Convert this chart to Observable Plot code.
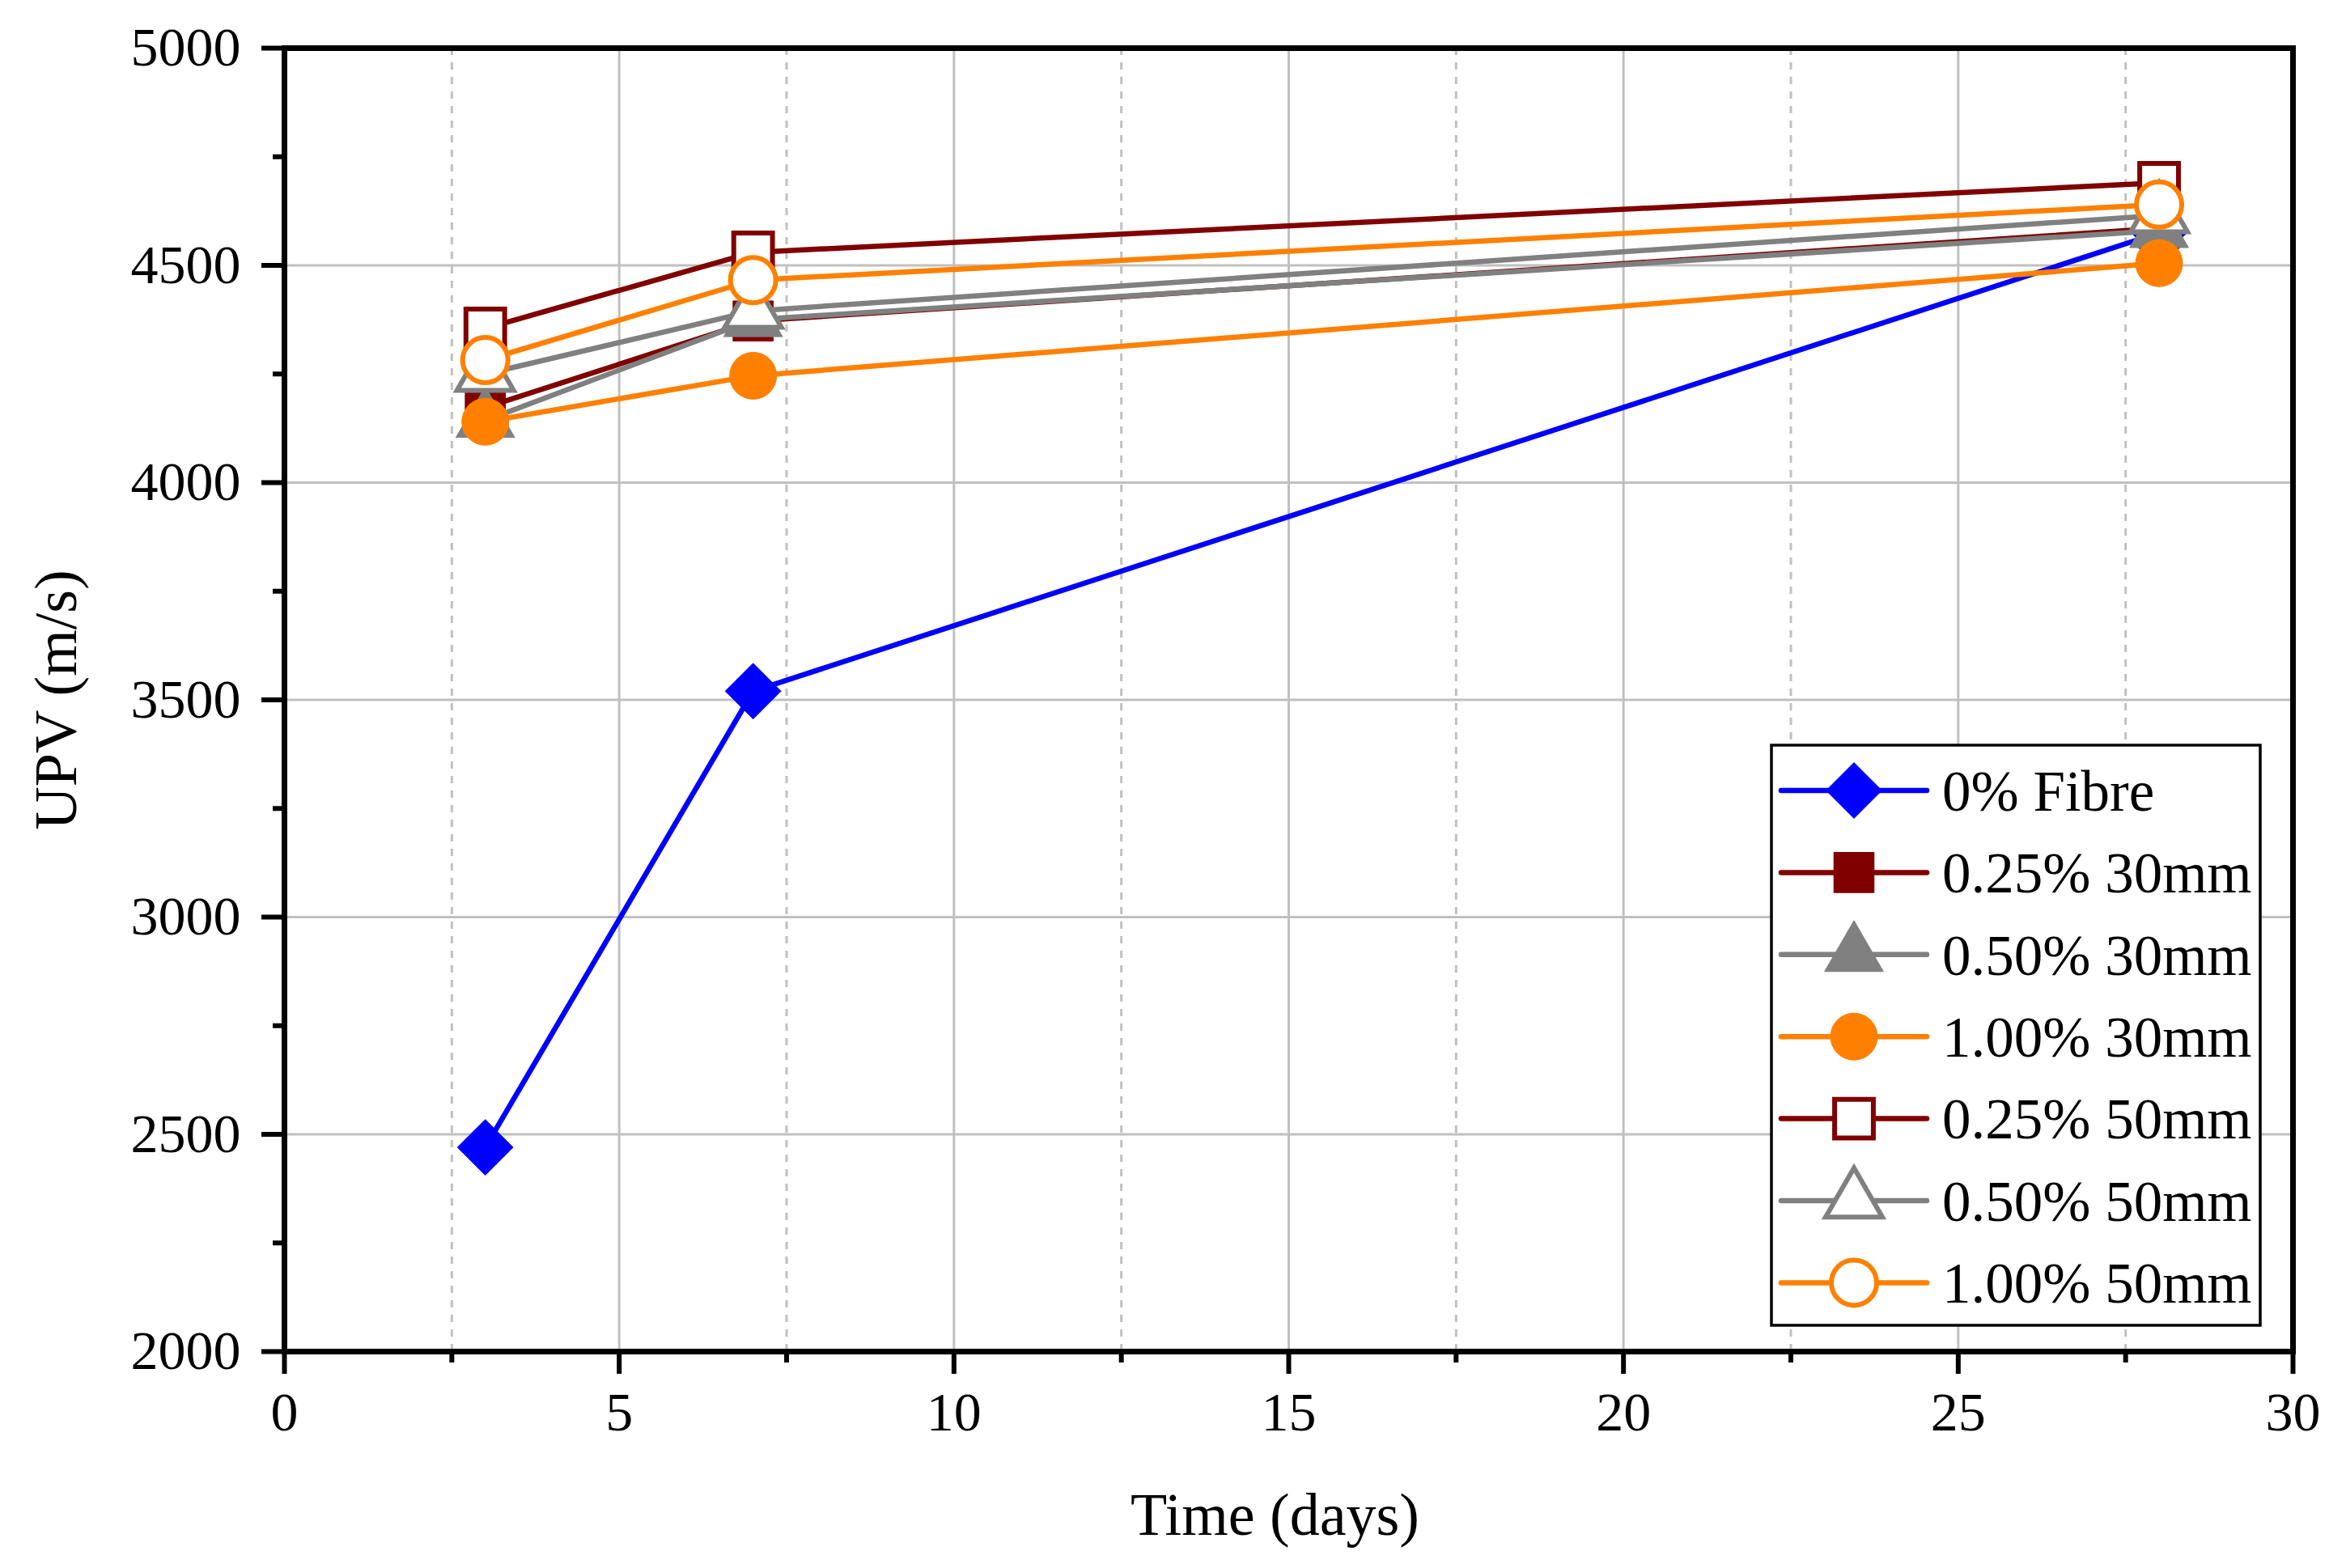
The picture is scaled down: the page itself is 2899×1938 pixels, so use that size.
<!DOCTYPE html>
<html>
<head>
<meta charset="utf-8">
<script src="https://cdn.jsdelivr.net/npm/d3@7"></script>
<script src="https://cdn.jsdelivr.net/npm/@observablehq/plot@0.6"></script>
<style>
  html, body { margin: 0; padding: 0; background: white; }
</style>
</head>
<body>
<div id="chart"></div>
<script>
// ---- data ----
const days = [3, 7, 28];
const seriesNames = ["0% Fibre", "0.25% 30mm", "0.50% 30mm", "1.00% 30mm", "0.25% 50mm", "0.50% 50mm", "1.00% 50mm"];
const fibre0   = [2470, 3520, 4575];
const p025_30  = [4173, 4372, 4585];
const p050_30  = [4143, 4375, 4580];
const p100_30  = [4140, 4246, 4505];
const p025_50  = [4355, 4530, 4690];
const p050_50  = [4250, 4395, 4615];
const p100_50  = [4282, 4466, 4640];
const seriesValues = [fibre0, p025_30, p050_30, p100_30, p025_50, p050_50, p100_50];

const xMajor = [0, 5, 10, 15, 20, 25, 30];
const xMinor = [2.5, 7.5, 12.5, 17.5, 22.5, 27.5];
const yMajor = [2000, 2500, 3000, 3500, 4000, 4500, 5000];
const yMinor = [2250, 2750, 3250, 3750, 4250, 4750];

// ---- styles ----
const colors  = ["#0000ff", "#800000", "#808080", "#ff8000", "#800000", "#808080", "#ff8000"];
const symbols = ["diamond2", "square", "triangle", "circle", "square", "triangle", "circle"];
const d3symbols = [d3.symbolDiamond2, d3.symbolSquare, d3.symbolTriangle, d3.symbolCircle, d3.symbolSquare, d3.symbolTriangle, d3.symbolCircle];
const radii   = [31, 28, 27, 29, 27, 26, 28];
const filled  = [true, true, true, true, false, false, false];

const W = 2899, H = 1938;
const mL = 351, mR = 66, mT = 59, mB = 268;
const FONT = "Liberation Serif";

const rows = [];
seriesNames.forEach((name, i) => {
  days.forEach((d, j) => rows.push({series: name, idx: i, day: d, value: seriesValues[i][j]}));
});

const dataMarks = [];
seriesNames.forEach((name, i) => {
  const data = rows.filter(r => r.idx === i);
  dataMarks.push(Plot.line(data, {x: "day", y: "value", stroke: colors[i], strokeWidth: 6.5}));
  dataMarks.push(Plot.dot(data, {
    x: "day", y: "value", symbol: () => symbols[i], r: radii[i],
    fill: filled[i] ? colors[i] : "white",
    stroke: colors[i], strokeWidth: filled[i] ? 1 : 6
  }));
});

const chart = Plot.plot({
  width: W, height: H,
  marginLeft: mL, marginRight: mR, marginTop: mT, marginBottom: mB,
  style: {fontFamily: FONT, fontSize: "68px", background: "white", color: "black", overflow: "visible"},
  x: {domain: [0, 30], label: null},
  y: {domain: [2000, 5000], label: null},
  symbol: {type: "identity"},
  marks: [
    Plot.gridX(xMinor, {stroke: "#c0c0c0", strokeOpacity: 1, strokeWidth: 3, strokeDasharray: "9,9"}),
    Plot.gridX(xMajor.slice(1, -1), {stroke: "#c0c0c0", strokeOpacity: 1, strokeWidth: 3}),
    Plot.gridY(yMajor.slice(1, -1), {stroke: "#c0c0c0", strokeOpacity: 1, strokeWidth: 3}),
    Plot.axisX(xMajor, {tickSize: 28, tickPadding: 21, strokeWidth: 6, fontSize: 68, tickFormat: d3.format("d"), label: null}),
    Plot.axisX(xMinor, {tickSize: 14, tickFormat: () => "", strokeWidth: 6, label: null}),
    Plot.axisY(yMajor, {tickSize: 28, tickPadding: 26, strokeWidth: 6, fontSize: 68, tickFormat: d3.format("d"), label: null}),
    Plot.axisY(yMinor, {tickSize: 14, tickFormat: () => "", strokeWidth: 6, label: null}),
    Plot.frame({stroke: "black", strokeWidth: 7}),
    ...dataMarks,
    Plot.text(["Time (days)"], {text: d => d, frameAnchor: "bottom", dx: -17, dy: 203, fontSize: 74, textAnchor: "middle", lineAnchor: "middle"}),
    Plot.text(["UPV (m/s)"], {text: d => d, frameAnchor: "left", dx: -281, rotate: -90, fontSize: 74, textAnchor: "middle", lineAnchor: "middle"})
  ]
});

document.getElementById("chart").appendChild(chart);

// ---- legend (inside plot area, pixel space) ----
const svg = d3.select(chart);
const lg = svg.append("g").attr("font-family", FONT).attr("font-size", 71).attr("text-anchor", "start");
const box = {x0: 2189, y0: 921, x1: 2793, y1: 1638};
lg.append("rect").attr("x", box.x0).attr("y", box.y0)
  .attr("width", box.x1 - box.x0).attr("height", box.y1 - box.y0)
  .attr("fill", "white").attr("stroke", "black").attr("stroke-width", 3.5);
const rowY0 = 977, rowStep = 101.4;
seriesNames.forEach((name, i) => {
  const cy = rowY0 + i * rowStep;
  lg.append("line").attr("x1", 2201).attr("x2", 2381).attr("y1", cy).attr("y2", cy)
    .attr("stroke", colors[i]).attr("stroke-width", 6.5).attr("stroke-linecap", "round");
  lg.append("path")
    .attr("d", d3.symbol().type(d3symbols[i]).size(Math.PI * radii[i] * radii[i])())
    .attr("transform", `translate(2291,${cy})`)
    .attr("fill", filled[i] ? colors[i] : "white")
    .attr("stroke", colors[i]).attr("stroke-width", filled[i] ? 1 : 6);
  lg.append("text").attr("x", 2400).attr("y", cy).attr("dy", "0.35em")
    .attr("text-anchor", "start").attr("fill", "black").text(name);
});
</script>
</body>
</html>
